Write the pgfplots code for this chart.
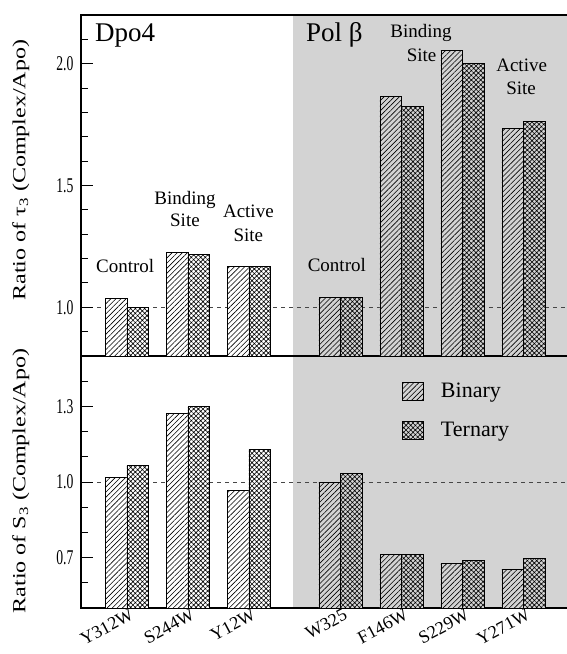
\documentclass[border=0pt]{standalone}
\usepackage{fontspec}
\setmainfont{Liberation Serif}
\newfontfamily\condfont{Liberation Serif}[FakeStretch=0.65]
\newfontfamily\widefont{Liberation Serif}[FakeStretch=1.3]
\usepackage{pgfplots}
\pgfplotsset{compat=1.18}
\usetikzlibrary{patterns.meta}
\definecolor{bggray}{RGB}{211,211,211}
\tikzset{
  binpat/.style={pattern={Lines[angle=45,distance=3.6pt,line width=0.6pt]}},
  terpat/.style={pattern={Hatch[angle=45,distance=3.3pt,line width=0.6pt]}},
  annot/.style={font=\fontsize{19}{19}\selectfont, anchor=base, inner sep=0pt},
  big/.style={font=\fontsize{27}{27}\selectfont, anchor=base west, inner sep=0pt},
}
\pgfplotsset{
  mypanel/.style={
    scale only axis, width=490pt, xmin=-0.754, xmax=7.279,
    axis line style={line width=1.5pt},
    tick style={line width=1pt, black},
    tick align=inside,
    major tick length=12pt, minor tick length=7pt,
    ytick pos=left,
    xtick style={draw=none},
    yticklabel style={font=\condfont\fontsize{21}{21}\selectfont, xshift=-4pt},
    set layers,
  },
  binbar/.style={ybar, bar width=21.5pt, bar shift=-10.75pt, draw=black, line width=0.7pt, postaction={binpat}},
  terbar/.style={ybar, bar width=21.5pt, bar shift=10.75pt, draw=black, line width=0.7pt, postaction={terpat}},
}
\begin{document}
\begin{tikzpicture}
% ---------------- top panel ----------------
\begin{axis}[mypanel, at={(81pt,-15pt)}, anchor=north west, height=341pt,
  ymin=0.8, ymax=2.2, ytick={1,1.5,2}, yticklabels={1.0,1.5,2.0},
  minor ytick={0.9,1.1,1.2,1.3,1.4,1.6,1.7,1.8,1.9,2.1},
  xtick=\empty,
  ylabel={\widefont\fontsize{18.5}{18.5}\selectfont Ratio of τ\textsubscript{3} (Complex/Apo)},
  ylabel style={at={(axis description cs:-0.105,0.545)}, anchor=south, inner sep=0pt},
]
\begin{pgfonlayer}{axis background}
\fill[bggray] (axis cs:2.726,0.8) rectangle (axis cs:7.279,2.2);
\draw[gray!55!black, line width=1pt, dash pattern=on 4pt off 4pt] (axis cs:-0.754,1) -- (axis cs:7.279,1);
\end{pgfonlayer}
\addplot[binbar, fill=white] coordinates {(0,1.038) (1,1.225) (2,1.167)};
\addplot[terbar, fill=white] coordinates {(0,1.000) (1,1.216) (2,1.167)};
\addplot[binbar, fill=bggray] coordinates {(3.5,1.042) (4.5,1.864) (5.5,2.055) (6.5,1.735)};
\addplot[terbar, fill=bggray] coordinates {(3.5,1.042) (4.5,1.825) (5.5,2.000) (6.5,1.764)};
\node[big] at (axis cs:-0.525,2.09) {Dpo4};
\node[big] at (axis cs:2.934,2.09) {Pol β};
\node[annot] at (axis cs:-0.03,1.143) {Control};
\node[annot] at (axis cs:0.95,1.422) {Binding};
\node[annot] at (axis cs:0.95,1.332) {Site};
\node[annot] at (axis cs:1.99,1.369) {Active};
\node[annot] at (axis cs:1.99,1.270) {Site};
\node[annot] at (axis cs:3.44,1.148) {Control};
\node[annot] at (axis cs:4.82,2.107) {Binding};
\node[annot] at (axis cs:4.83,2.008) {Site};
\node[annot] at (axis cs:6.47,1.967) {Active};
\node[annot] at (axis cs:6.46,1.873) {Site};
\end{axis}
% ---------------- bottom panel ----------------
\begin{axis}[mypanel, at={(81pt,-356pt)}, anchor=north west, height=252pt,
  ymin=0.5, ymax=1.5, ytick={0.7,1.0,1.3}, yticklabels={0.7,1.0,1.3},
  minor ytick={0.6,0.8,0.9,1.1,1.2,1.4},
  xtick={0,1,2,3.5,4.5,5.5,6.5},
  xticklabels={Y312W,S244W,Y12W,W325,F146W,S229W,Y271W},
  xticklabel style={rotate=28, anchor=north east, inner sep=1pt, xshift=3pt, font=\fontsize{18}{18}\selectfont},
  ylabel={\widefont\fontsize{18.5}{18.5}\selectfont Ratio of S\textsubscript{3} (Complex/Apo)},
  ylabel style={at={(axis description cs:-0.105,0.504)}, anchor=south, inner sep=0pt},
  legend image code/.code={\draw[#1] (0pt,-9pt) rectangle (21pt,9pt);},
  legend cell align=left,
  legend style={at={(axis cs:4.51,1.40)}, anchor=north west, draw=none, fill=none,
    inner sep=0pt, row sep=19pt, font=\fontsize{22}{22}\selectfont,
    /tikz/every odd column/.append style={column sep=15pt}},
]
\begin{pgfonlayer}{axis background}
\fill[bggray] (axis cs:2.726,0.5) rectangle (axis cs:7.279,1.5);
\draw[gray!55!black, line width=1pt, dash pattern=on 4pt off 4pt] (axis cs:-0.754,1) -- (axis cs:7.279,1);
\end{pgfonlayer}
\addlegendimage{draw=black, line width=0.7pt, fill=bggray, postaction={binpat}}
\addlegendentry{Binary}
\addlegendimage{draw=black, line width=0.7pt, fill=bggray, postaction={terpat}}
\addlegendentry{Ternary}
\addplot[binbar, fill=white, forget plot] coordinates {(0,1.017) (1,1.273) (2,0.968)};
\addplot[terbar, fill=white, forget plot] coordinates {(0,1.065) (1,1.300) (2,1.129)};
\addplot[binbar, fill=bggray, forget plot] coordinates {(3.5,1.000) (4.5,0.711) (5.5,0.677) (6.5,0.654)};
\addplot[terbar, fill=bggray, forget plot] coordinates {(3.5,1.033) (4.5,0.711) (5.5,0.689) (6.5,0.697)};
\end{axis}
\pgfresetboundingbox
\useasboundingbox (0,0) rectangle (566pt,-654pt);
\end{tikzpicture}
\end{document}
